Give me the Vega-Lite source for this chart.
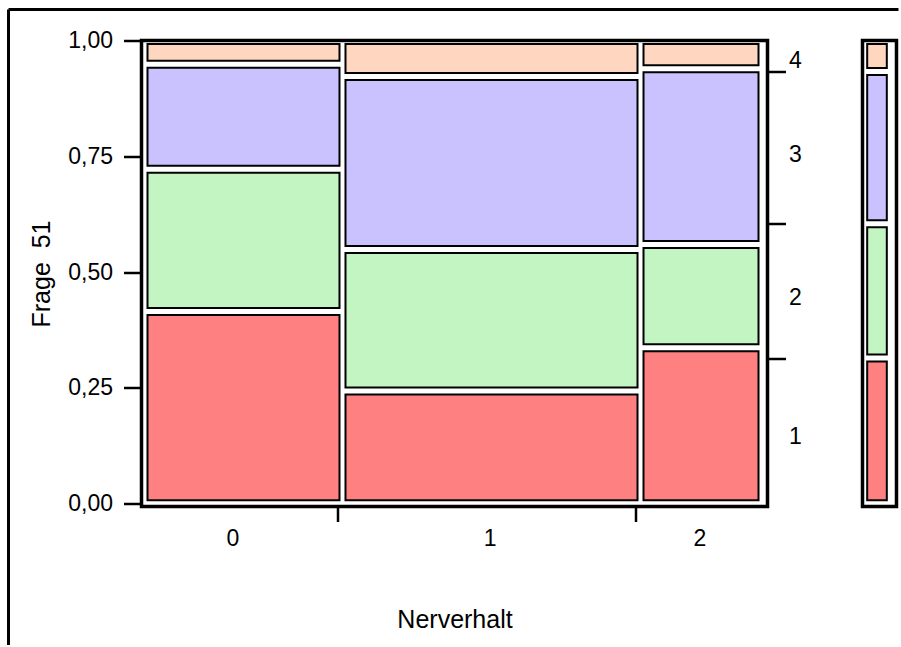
{
  "$schema": "https://vega.github.io/schema/vega-lite/v6.json",
  "background": "white",
  "padding": {"left": 4.5, "top": 5.5, "right": 0, "bottom": 0},
  "config": {
    "view": {"stroke": "black", "strokeWidth": 3.5},
    "font": "Liberation Sans",
    "axis": {"labelFont": "Liberation Sans", "titleFont": "Liberation Sans", "labelColor": "black", "titleColor": "black", "tickColor": "black", "grid": false, "domain": false, "titleFontWeight": "normal", "labelOverlap": false, "labelFlush": false, "labelBound": false}
  },
  "datasets": {
    "cells": [
      {"Nerverhalt": "0", "Frage51": "1", "x0": 0, "x1": 0.3209, "y0": 0, "y1": 0.415},
      {"Nerverhalt": "0", "Frage51": "2", "x0": 0, "x1": 0.3209, "y0": 0.415, "y1": 0.7222},
      {"Nerverhalt": "0", "Frage51": "3", "x0": 0, "x1": 0.3209, "y0": 0.7222, "y1": 0.9486},
      {"Nerverhalt": "0", "Frage51": "4", "x0": 0, "x1": 0.3209, "y0": 0.9486, "y1": 1},
      {"Nerverhalt": "1", "Frage51": "1", "x0": 0.3209, "x1": 0.8039, "y0": 0, "y1": 0.2433},
      {"Nerverhalt": "1", "Frage51": "2", "x0": 0.3209, "x1": 0.8039, "y0": 0.2433, "y1": 0.5488},
      {"Nerverhalt": "1", "Frage51": "3", "x0": 0.3209, "x1": 0.8039, "y0": 0.5488, "y1": 0.9223},
      {"Nerverhalt": "1", "Frage51": "4", "x0": 0.3209, "x1": 0.8039, "y0": 0.9223, "y1": 1},
      {"Nerverhalt": "2", "Frage51": "1", "x0": 0.8039, "x1": 1, "y0": 0, "y1": 0.3368},
      {"Nerverhalt": "2", "Frage51": "2", "x0": 0.8039, "x1": 1, "y0": 0.3368, "y1": 0.5596},
      {"Nerverhalt": "2", "Frage51": "3", "x0": 0.8039, "x1": 1, "y0": 0.5596, "y1": 0.9391},
      {"Nerverhalt": "2", "Frage51": "4", "x0": 0.8039, "x1": 1, "y0": 0.9391, "y1": 1}
    ],
    "marg": [
      {"Frage51": "1", "y0": 0, "y1": 0.3146},
      {"Frage51": "2", "y0": 0.3146, "y1": 0.6043},
      {"Frage51": "3", "y0": 0.6043, "y1": 0.9331},
      {"Frage51": "4", "y0": 0.9331, "y1": 1}
    ],
    "one": [{}]
  },
  "hconcat": [
    {
      "width": 626,
      "height": 466,
      "resolve": {"axis": {"y": "independent"}},
      "layer": [
        {
          "data": {"name": "cells"},
          "mark": {"type": "rect", "stroke": "black", "strokeWidth": 2, "xOffset": 3, "x2Offset": -3, "yOffset": -3.5, "y2Offset": 3.5, "opacity": 1},
          "encoding": {
            "x": {"field": "x0", "type": "quantitative", "scale": {"domain": [-0.00486, 1.00972], "nice": false, "zero": false},
              "axis": {"orient": "bottom", "title": "Nerverhalt", "titleFontSize": 25, "labelFontSize": 23, "titlePadding": 57,
                "values": [0.1426, 0.3128, 0.5592, 0.7958, 0.8995],
                "labelExpr": "datum.value < 0.2 ? '0' : (datum.value > 0.5 && datum.value < 0.6) ? '1' : datum.value > 0.85 ? '2' : ''",
                "tickSize": 15, "tickWidth": 2.5, "labelPadding": 6,
                "tickOpacity": {"condition": {"test": "datum.value < 0.2 || (datum.value > 0.5 && datum.value < 0.6) || datum.value > 0.85", "value": 0}, "value": 1}}},
            "x2": {"field": "x1"},
            "y": {"field": "y0", "type": "quantitative", "scale": {"domain": [-0.006, 1], "nice": false, "zero": false},
              "axis": {"orient": "left", "title": "Frage \u00a051", "titleFontSize": 25, "labelFontSize": 23,
                "values": [0, 0.25, 0.5, 0.75, 1],
                "labelExpr": "replace(format(datum.value, '.2f'), '.', ',')",
                "tickSize": 18, "tickWidth": 2.5, "labelPadding": 11, "titlePadding": 13}},
            "y2": {"field": "y1"},
            "color": {"field": "Frage51", "type": "nominal", "legend": null,
              "scale": {"domain": ["1", "2", "3", "4"], "range": ["#ff8080", "#c2f5c2", "#cac2ff", "#ffd6c0"]}}
          }
        },
        {
          "data": {"name": "marg"},
          "mark": {"type": "rule", "opacity": 0},
          "encoding": {
            "y": {"field": "y1", "type": "quantitative", "scale": {"domain": [-0.006, 1], "nice": false, "zero": false},
              "axis": {"orient": "right", "title": null, "labelFontSize": 23,
                "values": [0.1451, 0.3135, 0.445, 0.605, 0.7539, 0.9337, 0.9568],
                "labelExpr": "datum.value < 0.2 ? '1' : (datum.value > 0.4 && datum.value < 0.5) ? '2' : (datum.value > 0.7 && datum.value < 0.8) ? '3' : datum.value > 0.95 ? '4' : ''",
                "tickSize": 18, "tickWidth": 2.5, "labelPadding": 3,
                "tickOpacity": {"condition": {"test": "datum.value < 0.2 || (datum.value > 0.4 && datum.value < 0.5) || (datum.value > 0.7 && datum.value < 0.8) || datum.value > 0.95", "value": 0}, "value": 1}}}
          }
        },
        {
          "data": {"name": "one"},
          "mark": {"type": "rule", "color": "black", "strokeWidth": 3},
          "encoding": {
            "x": {"datum": -0.2204, "type": "quantitative"},
            "y": {"datum": 1.0669, "type": "quantitative", "axis": null},
            "y2": {"datum": -0.305}
          }
        },
        {
          "data": {"name": "one"},
          "mark": {"type": "rule", "color": "black", "strokeWidth": 3},
          "encoding": {
            "x": {"datum": -0.2204, "type": "quantitative"},
            "x2": {"datum": 1.2220},
            "y": {"datum": 1.0669, "type": "quantitative", "axis": null}
          }
        }
      ]
    },
    {
      "width": 34,
      "height": 466,
      "data": {"name": "marg"},
      "mark": {"type": "rect", "stroke": "black", "strokeWidth": 2, "yOffset": -3.5, "y2Offset": 3.5},
      "encoding": {
        "x": {"datum": 0.138, "type": "quantitative", "scale": {"domain": [0, 1], "nice": false, "zero": false}, "axis": null},
        "x2": {"datum": 0.715},
        "y": {"field": "y0", "type": "quantitative", "scale": {"domain": [-0.006, 1], "nice": false, "zero": false}, "axis": null},
        "y2": {"field": "y1"},
        "color": {"field": "Frage51", "type": "nominal", "legend": null,
          "scale": {"domain": ["1", "2", "3", "4"], "range": ["#ff8080", "#c2f5c2", "#cac2ff", "#ffd6c0"]}}
      }
    }
  ],
  "spacing": 95,
  "bounds": "flush",
  "resolve": {"scale": {"x": "independent", "y": "independent"}}
}
